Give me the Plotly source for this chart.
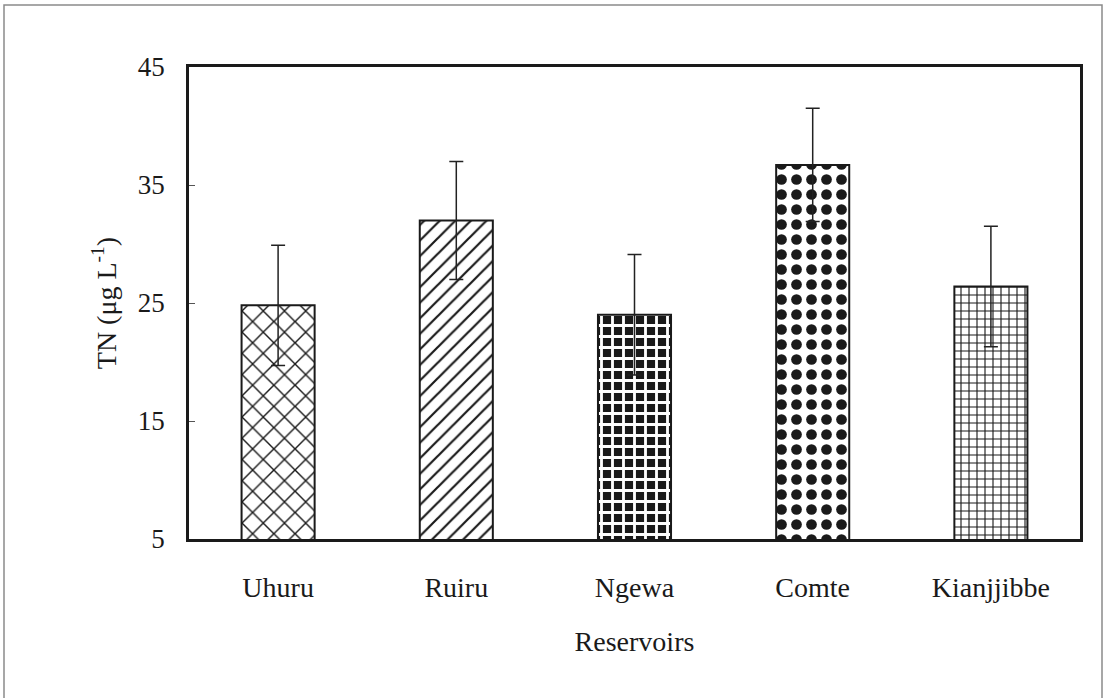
import plotly.graph_objects as go

# Total nitrogen per reservoir (mean ± SD)
reservoirs = ["Uhuru", "Ruiru", "Ngewa", "Comte", "Kianjjibbe"]
tn_mean = [24.8, 32.0, 24.0, 36.7, 26.4]
tn_sd = [5.1, 5.0, 5.1, 4.8, 5.1]
y_ticks = [5, 15, 25, 35, 45]

# Hatch style per bar: (shape, size px, solidity, foreground, background)
hatches = [
    ("x", 15, 0.18, "#1a1a1a", "white"),
    ("/", 11, 0.20, "#1a1a1a", "white"),
    ("+", 11, 0.45, "white", "#1a1a1a"),
    (".", 15, 0.40, "#1a1a1a", "white"),
    ("+", 8, 0.26, "#1a1a1a", "white"),
]

font_family = "Liberation Serif, Times New Roman, serif"
ink = "#1a1a1a"

fig = go.Figure()
for name, mean, sd, (shape, size, solid, fg, bg) in zip(reservoirs, tn_mean, tn_sd, hatches):
    fig.add_trace(
        go.Bar(
            x=[name],
            y=[mean],
            width=0.41,
            marker=dict(
                color=bg,
                line=dict(color=ink, width=2),
                pattern=dict(
                    shape=shape,
                    size=size,
                    solidity=solid,
                    fgcolor=fg,
                    bgcolor=bg,
                    fillmode="replace",
                ),
            ),
            error_y=dict(
                type="data",
                array=[sd],
                symmetric=True,
                color="#222222",
                thickness=1.5,
                width=7,
            ),
            showlegend=False,
        )
    )

fig.update_layout(
    width=1106,
    height=698,
    margin=dict(l=189, r=26, t=67, b=159),
    paper_bgcolor="white",
    plot_bgcolor="white",
    barmode="overlay",
    font=dict(family=font_family, size=28, color=ink),
    shapes=[
        # thin frame around the whole figure
        dict(
            type="rect",
            xref="paper",
            yref="paper",
            x0=-185 / 891,
            x1=(1106 - 189 - 4) / 891,
            y0=-165 / 472,
            y1=(539 - 5) / 472,
            line=dict(color="#8a8a8a", width=1.5),
            fillcolor="rgba(0,0,0,0)",
            layer="below",
        )
    ],
)

fig.update_xaxes(
    categoryorder="array",
    categoryarray=reservoirs,
    showline=True,
    linecolor=ink,
    linewidth=2.5,
    mirror=True,
    ticks="",
    showgrid=False,
    tickfont=dict(family=font_family, size=28),
    ticklabelstandoff=22,
    title=dict(text="Reservoirs", font=dict(family=font_family, size=28), standoff=30),
)

fig.update_yaxes(
    range=[5, 45],
    tickvals=y_ticks,
    showline=True,
    linecolor=ink,
    linewidth=2.5,
    mirror=True,
    ticks="inside",
    ticklen=6,
    tickcolor="#555555",
    showgrid=False,
    zeroline=False,
    tickfont=dict(family=font_family, size=27),
    ticklabelstandoff=16,
    title=dict(
        text="TN (μg L<sup>-1</sup>)",
        font=dict(family=font_family, size=28),
        standoff=14,
    ),
)

fig.write_html("out.html")
